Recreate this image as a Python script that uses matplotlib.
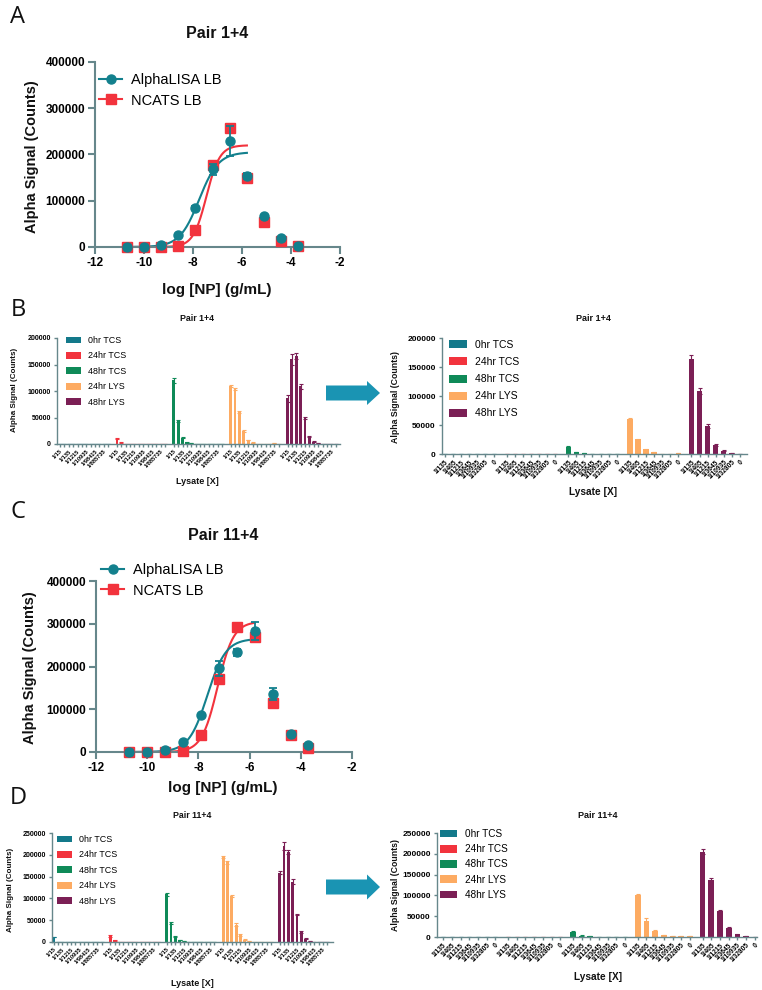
import numpy as np
import matplotlib
matplotlib.use("Agg")
import matplotlib.pyplot as plt
from matplotlib.lines import Line2D
from matplotlib.patches import Patch, Polygon

plt.rcParams['font.family'] = ['Liberation Sans', 'DejaVu Sans']
plt.rcParams['axes.unicode_minus'] = False

W, H = 762, 990
fig = plt.figure(figsize=(W / 100, H / 100), dpi=100)

# ---------------- data ----------------
log_np = [-10.7, -10.0, -9.3, -8.6, -7.9, -7.2, -6.5, -5.8, -5.1, -4.4, -3.7]

a_alpha = [1000, 1000, 5000, 25000, 84000, 168000, 229000, 153000, 66000, 19000, 3000]
a_alpha_err = [500, 500, 1000, 2000, 4000, 12000, 32000, 6000, 3000, 2000, 500]
a_ncats = [500, 500, 500, 3000, 37000, 178000, 258000, 149000, 53000, 13000, 3000]
a_ncats_err = [300, 300, 300, 500, 2000, 5000, 4000, 4000, 2000, 1000, 500]
a_fit_alpha = (205000, -7.75, 1.1)   # top, logEC50, hill
a_fit_ncats = (220000, -7.45, 1.6)

c_alpha = [1000, 1000, 4000, 24000, 87000, 196000, 233000, 283000, 136000, 42000, 16000]
c_alpha_err = [500, 500, 1000, 2000, 3000, 18000, 8000, 22000, 14000, 3000, 2000]
c_ncats = [500, 500, 500, 3000, 39000, 170000, 293000, 268000, 115000, 39000, 10000]
c_ncats_err = [300, 300, 300, 500, 2000, 6000, 4000, 5000, 3000, 2000, 1000]
c_fit_alpha = (265000, -7.65, 1.2)
c_fit_ncats = (305000, -7.25, 1.4)

series_names = ["0hr TCS", "24hr TCS", "48hr TCS", "24hr LYS", "48hr LYS"]
series_colors = ["#13798a", "#f2333d", "#0f8a58", "#fdab62", "#7b1f55"]

left_labels = ["1/15", "", "1/135", "", "1/1215", "", "1/10935", "", "1/98415", "", "1/885735", ""]
right_labels = ["1/135", "1/405", "1/1215", "1/3645", "1/10935", "1/32805", "0"]

bL_vals = [
    [800, 800, 800, 800, 800, 800, 800, 800, 800, 800, 800, 800],
    [9500, 2500, 800, 500, 500, 500, 800, 800, 800, 800, 800, 800],
    [120000, 43000, 12000, 3200, 1200, 500, 500, 500, 800, 800, 800, 800],
    [109000, 104000, 61000, 24500, 7500, 2500, 500, 500, 500, 500, 1000, 800],
    [86000, 160000, 166000, 109000, 48500, 15000, 4500, 1500, 500, 500, 800, 800],
]
bL_errs = [
    [0] * 12,
    [1000, 500, 0, 0, 0, 0, 0, 0, 0, 0, 0, 0],
    [5000, 2000, 1000, 500, 0, 0, 0, 0, 0, 0, 0, 0],
    [2000, 2000, 2000, 1000, 500, 500, 0, 0, 0, 0, 0, 0],
    [6000, 10000, 6000, 5000, 2000, 1000, 500, 300, 0, 0, 0, 0],
]

bR_vals = [
    [400, 400, 400, 400, 400, 400, 0],
    [300, 300, 300, 500, 500, 300, 600],
    [12500, 3400, 1500, 500, 300, 500, 300],
    [60500, 25500, 8500, 3400, 800, 500, 1000],
    [164000, 109000, 48000, 15500, 5600, 1500, 800],
]
bR_errs = [
    [0] * 7,
    [0] * 7,
    [800, 300, 200, 0, 0, 0, 0],
    [2000, 1000, 800, 300, 0, 0, 0],
    [6000, 5000, 3000, 1500, 600, 300, 0],
]

dL_vals = [
    [11500, 800, 800, 800, 800, 800, 800, 800, 800, 800, 800, 800],
    [13800, 3800, 800, 800, 800, 1000, 1000, 1000, 1000, 1000, 1000, 800],
    [109000, 43000, 13500, 4600, 1500, 800, 800, 1000, 800, 800, 800, 800],
    [195000, 183000, 105000, 40000, 16000, 5400, 2300, 1000, 1000, 800, 1000, 800],
    [159000, 221000, 207000, 138000, 63000, 23000, 8000, 2300, 800, 800, 800, 800],
]
dL_errs = [
    [1000, 0, 0, 0, 0, 0, 0, 0, 0, 0, 0, 0],
    [1500, 800, 0, 0, 0, 0, 0, 0, 0, 0, 0, 0],
    [3000, 2000, 1000, 500, 300, 0, 0, 0, 0, 0, 0, 0],
    [3000, 3000, 2000, 4000, 1500, 500, 300, 0, 0, 0, 0, 0],
    [3000, 9000, 5000, 6000, 2000, 1500, 800, 300, 0, 0, 0, 0],
]

dR_vals = [
    [300, 300, 300, 300, 300, 300, 0],
    [300, 300, 300, 500, 500, 500, 0],
    [12000, 3200, 1600, 300, 300, 700, 800],
    [102000, 38000, 14500, 4800, 2400, 1500, 1500],
    [205000, 136000, 62500, 22500, 6400, 1600, 800],
]
dR_errs = [
    [0] * 7,
    [0] * 7,
    [1500, 800, 300, 0, 0, 0, 0],
    [2000, 7000, 1500, 500, 300, 0, 0],
    [6000, 6000, 2500, 1000, 1000, 300, 0],
]

AXC = "#66878b"
TEAL = "#13808d"
RED = "#f2333d"


def px_axes(l, t, r, b):
    return fig.add_axes([l / W, 1 - b / H, (r - l) / W, (b - t) / H])


def T(x, y, s, size, weight="bold", rot=0, ha="center", va="center", family=None):
    kw = {}
    if family:
        kw["family"] = family
    fig.text(x / W, 1 - y / H, s, fontsize=size, fontweight=weight, rotation=rot,
             ha=ha, va=va, color="#111111", **kw)


def style_axes(ax, lw=1.5, ticklen=5, labsize=8):
    for s in ["top", "right"]:
        ax.spines[s].set_visible(False)
    for s in ["left", "bottom"]:
        ax.spines[s].set_color(AXC)
        ax.spines[s].set_linewidth(lw)
    ax.tick_params(axis="both", direction="out", length=ticklen, width=lw, color=AXC,
                   labelsize=labsize, pad=2)
    for lab in ax.get_xticklabels() + ax.get_yticklabels():
        lab.set_fontweight("bold")


def logistic(x, top, ec50, hill):
    return top / (1 + 10 ** ((ec50 - x) * hill))


def dose_panel(ax, alpha, alpha_err, ncats, ncats_err, fit_a, fit_n):
    xs = np.linspace(log_np[0], log_np[7], 200)
    ax.plot(xs, logistic(xs, *fit_n), color=RED, lw=1.5, zorder=2)
    ax.plot(xs, logistic(xs, *fit_a), color=TEAL, lw=1.5, zorder=2)
    ax.errorbar(log_np, ncats, yerr=ncats_err, fmt="s", color=RED, ms=6.5, capsize=3,
                elinewidth=1.3, capthick=1.3, zorder=3, clip_on=False)
    ax.errorbar(log_np, alpha, yerr=alpha_err, fmt="o", color=TEAL, ms=6.5, capsize=3,
                elinewidth=1.3, capthick=1.3, zorder=4, clip_on=False)
    ax.set_xlim(-12, -2)
    ax.set_ylim(0, 400000)
    ax.set_xticks([-12, -10, -8, -6, -4, -2])
    ax.set_yticks([0, 100000, 200000, 300000, 400000])
    ax.set_yticklabels(["0", "100000", "200000", "300000", "400000"])
    style_axes(ax, lw=1.5, ticklen=5, labsize=8.5)


def dose_legend(ax, x, y):
    handles = [Line2D([], [], color=TEAL, marker="o", ms=6.5, lw=1.5, label="AlphaLISA LB"),
               Line2D([], [], color=RED, marker="s", ms=6.5, lw=1.5, label="NCATS LB")]
    ax.legend(handles=handles, loc="upper left", bbox_to_anchor=(x / W, 1 - y / H),
              bbox_transform=fig.transFigure, frameon=False, fontsize=10.5,
              handlelength=1.6, handletextpad=0.6, labelspacing=0.45, borderpad=0,
              borderaxespad=0)


def bar_panel(ax, vals, errs, labels, gap, xlim, ymax, width, labsize, xlabsize, lw=1.0):
    nper = len(labels)
    ticks, ticklabels = [], []
    for g in range(5):
        xs = g * (nper + gap) + np.arange(nper)
        ax.bar(xs, vals[g], width, color=series_colors[g], zorder=2,
               yerr=errs[g], error_kw=dict(ecolor=series_colors[g], elinewidth=0.8,
                                           capsize=1.2, capthick=0.8))
        ticks.extend(xs)
        ticklabels.extend(labels)
    ax.set_xticks(ticks)
    ax.set_xticklabels(ticklabels, rotation=45, ha="right", rotation_mode="anchor",
                       fontsize=xlabsize)
    ax.set_xlim(*xlim)
    ax.set_ylim(0, ymax)
    ax.set_yticks(np.arange(0, ymax + 1, 50000))
    ax.set_yticklabels([str(int(v)) for v in np.arange(0, ymax + 1, 50000)])
    style_axes(ax, lw=lw, ticklen=2.5, labsize=labsize)
    ax.tick_params(axis="x", labelsize=xlabsize, pad=1)


def bar_legend(ax, x, y, fs, spacing):
    handles = [Patch(facecolor=c, edgecolor="none", label=n)
               for c, n in zip(series_colors, series_names)]
    ax.legend(handles=handles, loc="upper left", bbox_to_anchor=(x / W, 1 - y / H),
              bbox_transform=fig.transFigure, frameon=False, fontsize=fs,
              handlelength=1.7, handleheight=0.8, handletextpad=0.8,
              labelspacing=spacing, borderpad=0, borderaxespad=0)


def arrow(x0, x1, yc, body_h, head_h, head_len):
    pts = [(x0, yc - body_h / 2), (x1 - head_len, yc - body_h / 2), (x1 - head_len, yc - head_h / 2),
           (x1, yc), (x1 - head_len, yc + head_h / 2), (x1 - head_len, yc + body_h / 2),
           (x0, yc + body_h / 2)]
    pts = [(px / W, 1 - py / H) for px, py in pts]
    fig.add_artist(Polygon(pts, closed=True, transform=fig.transFigure,
                           facecolor="#1a94b3", edgecolor="none"))


# ---------------- Panel A ----------------
axA = px_axes(95, 62, 340, 247)
dose_panel(axA, a_alpha, a_alpha_err, a_ncats, a_ncats_err, a_fit_alpha, a_fit_ncats)
dose_legend(axA, 99, 73)
T(217, 33, "Pair 1+4", 11.5)
T(217, 290, "log [NP] (g/mL)", 11)
T(32, 157, "Alpha Signal (Counts)", 10.5, rot=90)
T(18, 17, "A", 17, weight="normal", family=["Open Sans", "DejaVu Sans"])

# ---------------- Panel B ----------------
axBL = px_axes(57, 338, 340, 444)
bar_panel(axBL, bL_vals, bL_errs, left_labels, 1, (-0.7, 64), 200000, 0.65, 5, 4.1, lw=1.0)
bar_legend(axBL, 66, 336, 6.4, 0.72)
T(197, 318, "Pair 1+4", 6.3)
T(197, 482, "Lysate [X]", 6.5)
T(15, 390, "Alpha Signal (Counts)", 5.8, rot=90)

axBR = px_axes(442, 338, 747, 454)
bar_panel(axBR, bR_vals, bR_errs, right_labels, 0.65, (-0.4, 37.5), 200000, 0.65, 6, 4.8, lw=1.0)
bar_legend(axBR, 449, 340, 7.5, 0.68)
T(593, 318, "Pair 1+4", 6.5)
T(593, 492, "Lysate [X]", 7.3)
T(395, 397, "Alpha Signal (Counts)", 6.3, rot=90)
T(18, 310, "B", 17, weight="normal", family=["Open Sans", "DejaVu Sans"])
arrow(326, 380, 393, 15, 24, 13)

# ---------------- Panel C ----------------
axC = px_axes(96, 581, 352, 752)
dose_panel(axC, c_alpha, c_alpha_err, c_ncats, c_ncats_err, c_fit_alpha, c_fit_ncats)
dose_legend(axC, 101, 563)
T(223, 535, "Pair 11+4", 11.5)
T(223, 788, "log [NP] (g/mL)", 11)
T(30, 668, "Alpha Signal (Counts)", 10.5, rot=90)
T(18, 512, "C", 17, weight="normal", family=["Open Sans", "DejaVu Sans"])

# ---------------- Panel D ----------------
axDL = px_axes(52, 833, 333, 942)
bar_panel(axDL, dL_vals, dL_errs, left_labels, 1, (-0.4, 64.3), 250000, 0.65, 5, 4.1, lw=1.0)
bar_legend(axDL, 57, 835, 6.4, 0.72)
T(192, 815, "Pair 11+4", 6.3)
T(192, 983, "Lysate [X]", 6.5)
T(11, 890, "Alpha Signal (Counts)", 5.8, rot=90)

axDR = px_axes(437, 833, 757, 937)
bar_panel(axDR, dR_vals, dR_errs, right_labels, 0.45, (-0.7, 36.05), 250000, 0.65, 6, 4.8, lw=1.0)
bar_legend(axDR, 440, 829, 7.2, 0.52)
T(598, 815, "Pair 11+4", 6.5)
T(598, 977, "Lysate [X]", 7.3)
T(395, 885, "Alpha Signal (Counts)", 6.3, rot=90)
T(18, 798, "D", 17, weight="normal", family=["Open Sans", "DejaVu Sans"])
arrow(326, 380, 887, 15, 25, 13)

fig.savefig("out.png", dpi=100)
